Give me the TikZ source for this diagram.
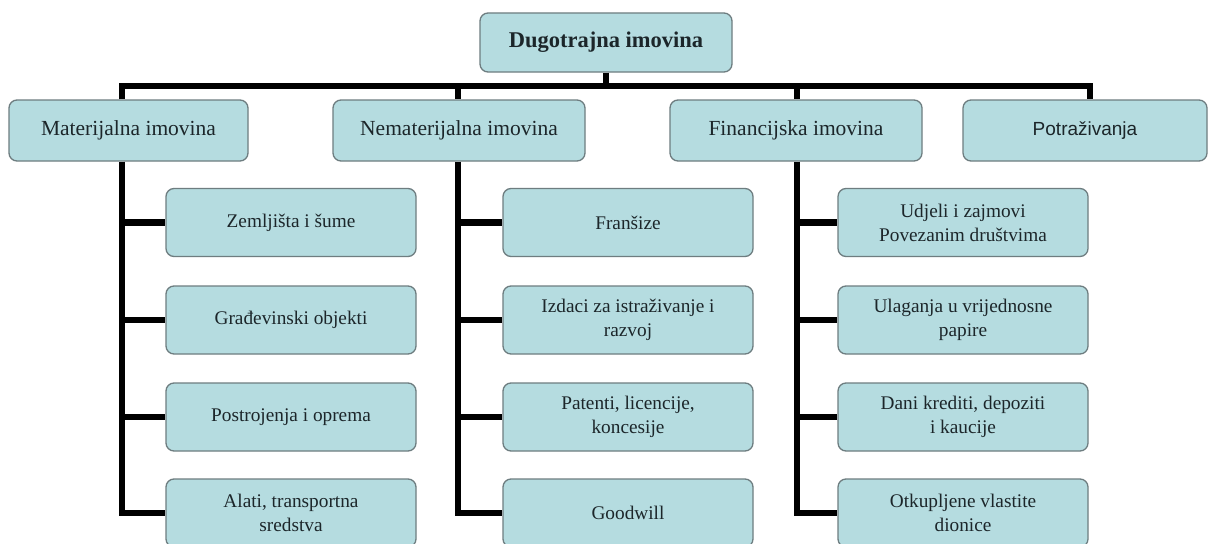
\documentclass[tikz,border=0pt]{standalone}
\usepackage{fontspec}
\setmainfont{Liberation Serif}
\newfontfamily\arialfont{Liberation Sans}
\definecolor{boxfill}{RGB}{181,220,224}
\definecolor{boxline}{RGB}{110,125,128}
\definecolor{boxtext}{RGB}{28,38,42}
\tikzset{
  card/.style={draw=boxline, line width=1.3pt, fill=boxfill, rounded corners=8pt,
    text=boxtext, align=center, inner sep=0pt, anchor=center},
  topcard/.style={card, minimum width=252pt, minimum height=59pt,
    font=\fontsize{22.5}{26}\selectfont\bfseries},
  catcard/.style={card, minimum height=61pt, font=\fontsize{21.5}{25}\selectfont},
  leafcard/.style={card, minimum width=250pt, minimum height=68pt,
    font=\fontsize{19.3}{24}\selectfont},
  bar/.style={line width=6.8pt, black, line join=miter, line cap=butt}
}
\begin{document}
\begin{tikzpicture}[x=1pt, y=-1pt]
\clip (0,0) rectangle (1209,543);
\fill[white] (0,0) rectangle (1209,543);

% top
\node[topcard] (top) at (606,42.5) {Dugotrajna imovina};

% categories
\node[catcard, minimum width=239pt] (mat) at (128.5,130.5) {\raisebox{-3pt}{Materijalna imovina}};
\node[catcard, minimum width=252pt] (nem) at (459,130.5) {\raisebox{-3pt}{Nematerijalna imovina}};
\node[catcard, minimum width=252pt] (fin) at (796,130.5) {\raisebox{-3pt}{Financijska imovina}};
\node[catcard, minimum width=244pt, font=\fontsize{19}{23}\selectfont\arialfont] (pot) at (1085,130.5) {\raisebox{-2pt}{Potraživanja}};

% column 1
\node[leafcard] (m1) at (291,222.5) {Zemljišta i šume};
\node[leafcard] (m2) at (291,320) {Građevinski objekti};
\node[leafcard] (m3) at (291,417) {Postrojenja i oprema};
\node[leafcard] (m4) at (291,513) {Alati, transportna\\sredstva};

% column 2
\node[leafcard] (n1) at (628,222.5) {Franšize};
\node[leafcard] (n2) at (628,320) {Izdaci za istraživanje i\\razvoj};
\node[leafcard] (n3) at (628,417) {Patenti, licencije,\\koncesije};
\node[leafcard] (n4) at (628,513) {Goodwill};

% column 3
\node[leafcard] (f1) at (963,222.5) {Udjeli i zajmovi\\Povezanim društvima};
\node[leafcard] (f2) at (963,320) {Ulaganja u vrijednosne\\papire};
\node[leafcard] (f3) at (963,417) {Dani krediti, depoziti\\i kaucije};
\node[leafcard] (f4) at (963,513) {Otkupljene vlastite\\dionice};

% spine x positions
\coordinate (sm) at (122,86);
\coordinate (sn) at (458,86);
\coordinate (sf) at (797,86);
\coordinate (sp) at (1090,86);

% top bar
\draw[bar] (top.south) -- (top.south |- sm);
\draw[bar] (sm |- mat.north) -- (sm) -- (sp) -- (sp |- pot.north);
\draw[bar] (sn) -- (sn |- nem.north);
\draw[bar] (sf) -- (sf |- fin.north);

% column spines
\draw[bar] (sm |- mat.south) -- (sm |- m4.west) -- (m4.west);
\draw[bar] (sm |- m1.west) -- (m1.west);
\draw[bar] (sm |- m2.west) -- (m2.west);
\draw[bar] (sm |- m3.west) -- (m3.west);

\draw[bar] (sn |- nem.south) -- (sn |- n4.west) -- (n4.west);
\draw[bar] (sn |- n1.west) -- (n1.west);
\draw[bar] (sn |- n2.west) -- (n2.west);
\draw[bar] (sn |- n3.west) -- (n3.west);

\draw[bar] (sf |- fin.south) -- (sf |- f4.west) -- (f4.west);
\draw[bar] (sf |- f1.west) -- (f1.west);
\draw[bar] (sf |- f2.west) -- (f2.west);
\draw[bar] (sf |- f3.west) -- (f3.west);
\end{tikzpicture}
\end{document}
